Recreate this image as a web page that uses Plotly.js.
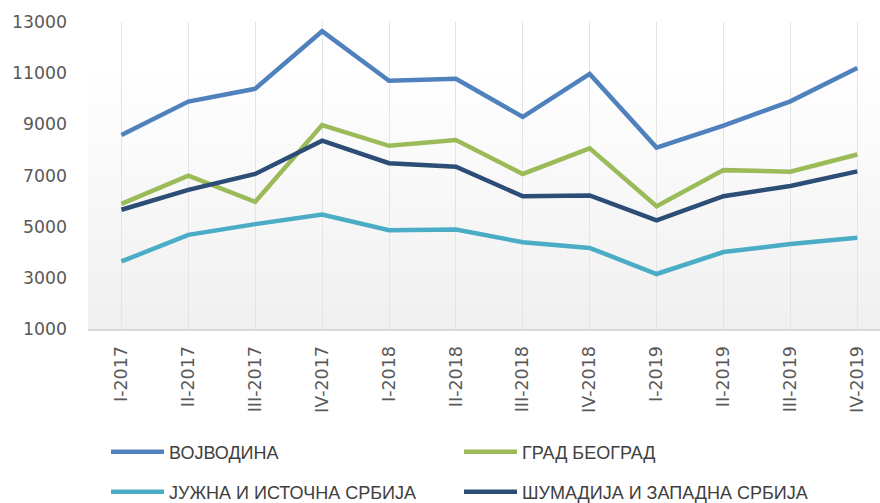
<!DOCTYPE html>
<html>
<head>
<meta charset="utf-8">
<script src="https://cdn.plot.ly/plotly-3.0.1.min.js"></script>
<style>html,body{margin:0;padding:0;background:#fff;}#chart{width:880px;height:503px;}</style>
</head>
<body>
<div id="chart"></div>
<script>
const categories = ["I-2017","II-2017","III-2017","IV-2017","I-2018","II-2018","III-2018","IV-2018","I-2019","II-2019","III-2019","IV-2019"];
const vojvodina = [8580, 9890, 10390, 12640, 10700, 10780, 9290, 10970, 8090, 8950, 9900, 11200];
const beograd   = [5890, 6990, 5970, 8970, 8160, 8390, 7060, 8060, 5800, 7210, 7150, 7820];
const sumadija  = [5660, 6440, 7060, 8360, 7480, 7340, 6190, 6220, 5250, 6190, 6590, 7160];
const juzna     = [3640, 4680, 5100, 5470, 4860, 4890, 4390, 4170, 3150, 4010, 4320, 4570];
const names = ["ВОЈВОДИНА", "ГРАД БЕОГРАД", "ЈУЖНА И ИСТОЧНА СРБИЈА", "ШУМАДИЈА И ЗАПАДНА СРБИЈА"];
const yTicks = [1000, 3000, 5000, 7000, 9000, 11000, 13000];

const colors = ["#4f81bd", "#9bbb59", "#4bacc6", "#2c4d75"];
function tr(y, i, leg) {
  return {x: categories, y: y, name: names[i], type: "scatter", mode: "lines",
    line: {color: colors[i], width: 4.5}, legend: leg, hoverinfo: "skip"};
}
const data = [
  tr(vojvodina, 0, "legend"),
  tr(beograd, 1, "legend2"),
  tr(juzna, 2, "legend3"),
  tr(sumadija, 3, "legend4")
];

const svg = "<svg xmlns='http://www.w3.org/2000/svg' width='10' height='100' preserveAspectRatio='none'><defs><linearGradient id='g' x1='0' y1='0' x2='0' y2='1'><stop offset='0' stop-color='#ffffff'/><stop offset='0.15' stop-color='#ffffff'/><stop offset='1' stop-color='#f0f0f0'/></linearGradient></defs><rect width='10' height='100' fill='url(#g)'/></svg>";
const bgURI = "data:image/svg+xml;charset=utf-8," + encodeURIComponent(svg);

const legFont = {family: "Liberation Sans, sans-serif", size: 18, color: "#404040"};
function leg(x, yPix) {
  return {orientation: "h", xref: "container", yref: "container",
    x: x, xanchor: "left", y: 1 - yPix/503, yanchor: "middle",
    itemwidth: 53, font: legFont, bgcolor: "rgba(0,0,0,0)", itemclick: false};
}
const layout = {
  width: 880, height: 503,
  margin: {l: 88, r: 0, t: 22, b: 174},
  paper_bgcolor: "#ffffff",
  plot_bgcolor: "rgba(0,0,0,0)",
  showlegend: true,
  images: [{source: bgURI, xref: "paper", yref: "paper", x: 0, y: 1, sizex: 1, sizey: 1,
    xanchor: "left", yanchor: "top", sizing: "stretch", layer: "below"}],
  xaxis: {
    type: "category", range: [-0.5, 11.34],
    showgrid: true, gridcolor: "#e4e4e4", gridwidth: 1,
    showline: true, linecolor: "#d9d9d9", linewidth: 2,
    ticks: "", tickangle: -90,
    tickfont: {family: "DejaVu Sans", size: 17.5, color: "#595959"},
    ticklabelstandoff: 8, fixedrange: true
  },
  yaxis: {
    range: [1000, 13000], tickvals: yTicks, ticktext: yTicks.map(String),
    showgrid: false, zeroline: false, showline: false, ticks: "",
    tickfont: {family: "DejaVu Sans", size: 17.3, color: "#595959"},
    ticklabelstandoff: 20, fixedrange: true
  },
  legend: leg(106/880, 452),
  legend2: leg(459/880, 452),
  legend3: leg(106/880, 492),
  legend4: leg(459/880, 492)
};
Plotly.newPlot("chart", data, layout, {staticPlot: true, displayModeBar: false});
</script>
</body>
</html>
